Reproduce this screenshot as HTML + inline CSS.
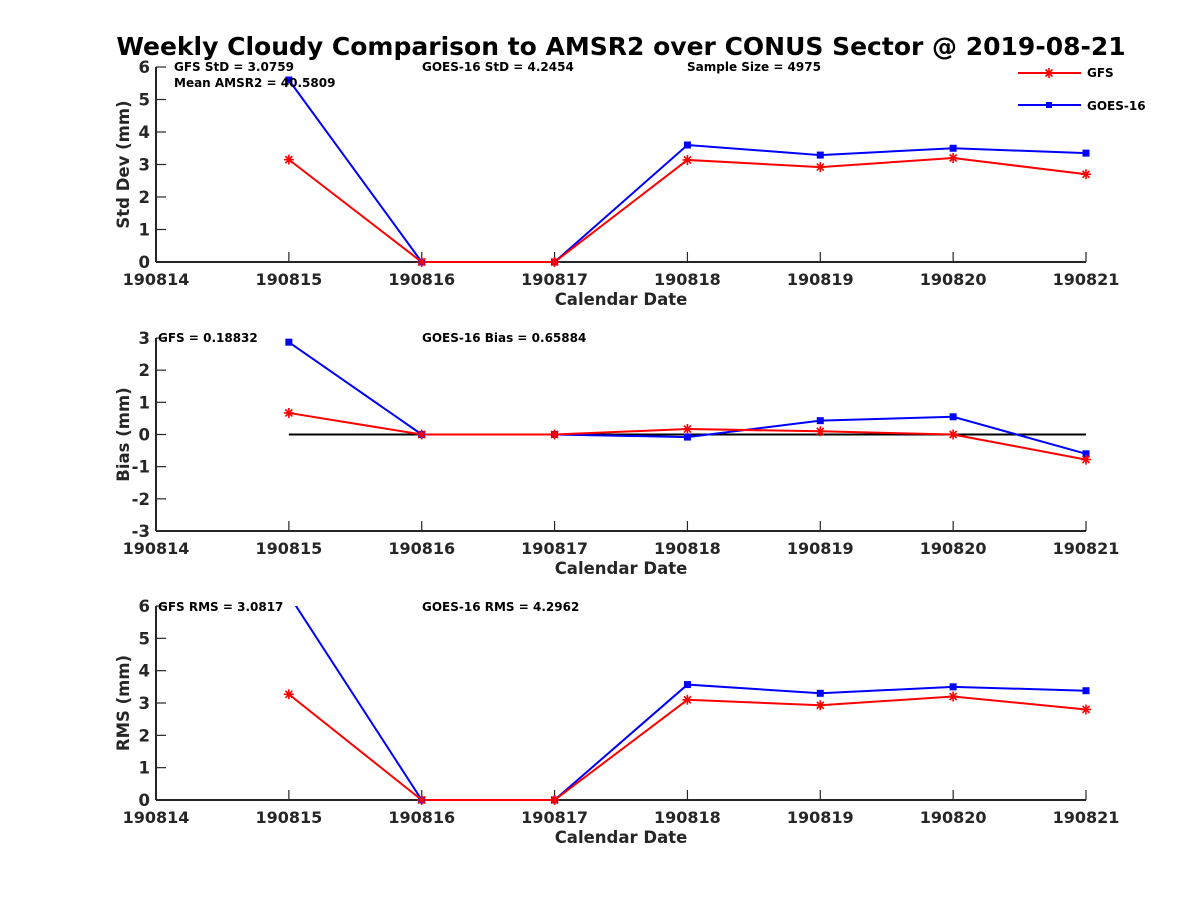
<!DOCTYPE html>
<html><head><meta charset="utf-8"><style>
html,body{margin:0;padding:0;background:#fff;}
svg text{font-family:"DejaVu Sans","Liberation Sans",sans-serif;font-weight:bold;fill:#262626;}
</style></head><body>
<svg id="c" width="1200" height="900" xmlns="http://www.w3.org/2000/svg">
<text x="621" y="55" text-anchor="middle" font-size="25" style="fill:#000">Weekly Cloudy Comparison to AMSR2 over CONUS Sector @ 2019-08-21</text>
<g>
<line x1="1018" y1="73" x2="1081" y2="73" stroke="#f00" stroke-width="2"/>
<path d="M1044,73H1054M1049,68V78M1045.5,69.5L1052.5,76.5M1045.5,76.5L1052.5,69.5" stroke="#f00" stroke-width="1.6"/>
<text x="1087" y="77" font-size="12" style="fill:#000">GFS</text>
<line x1="1018" y1="105" x2="1081" y2="105" stroke="#00f" stroke-width="2"/>
<rect x="1046" y="102" width="6" height="6" fill="#00f"/>
<text x="1087" y="110" font-size="12" style="fill:#000">GOES-16</text>
</g>
</svg>
<script>
const dates=['190814','190815','190816','190817','190818','190819','190820','190821'];
const stdGFS=[null,3.15,0,0,3.14,2.92,3.2,2.7];
const stdGOES=[null,5.6,0,0,3.6,3.29,3.5,3.35];
const biasGFS=[null,0.67,0,0,0.17,0.1,0,-0.78];
const biasGOES=[null,2.87,0,0,-0.08,0.43,0.55,-0.6];
const rmsGFS=[null,3.27,0,0,3.1,2.93,3.2,2.8];
const rmsGOES=[null,6.34,0,0,3.57,3.3,3.5,3.38];
const stdTicks=[0,1,2,3,4,5,6];
const biasTicks=[-3,-2,-1,0,1,2,3];
const rmsTicks=[0,1,2,3,4,5,6];
const svg=document.getElementById('c');
const NS='http://www.w3.org/2000/svg';
function mk(tag,attrs,parent){const e=document.createElementNS(NS,tag);for(const k in attrs)e.setAttribute(k,attrs[k]);(parent||svg).appendChild(e);return e;}
const X0=156,X1=1086;
function xs(i){return X0+(X1-X0)*i/(dates.length-1);}
function star(g,x,y){
  const r=5;
  mk('path',{d:`M${x-r},${y}H${x+r}M${x},${y-r}V${y+r}M${x-r*0.7},${y-r*0.7}L${x+r*0.7},${y+r*0.7}M${x-r*0.7},${y+r*0.7}L${x+r*0.7},${y-r*0.7}`,stroke:'#f00','stroke-width':1.6,fill:'none'},g);
}
function panel(id,top,bot,ticks,g1,g2,ylabel,annots,zeroLine){
  const ymin=ticks[0],ymax=ticks[ticks.length-1];
  const ys=v=>bot-(v-ymin)/(ymax-ymin)*(bot-top);
  const g=mk('g',{});
  
  
  const clip=mk('clipPath',{id:id+'clip'},g);
  mk('rect',{x:X0,y:top,width:X1-X0+20,height:bot-top+10},clip);
  mk('line',{x1:X0,y1:top,x2:X0,y2:bot,stroke:'#262626','stroke-width':2},g);
  mk('line',{x1:X0,y1:bot,x2:X1,y2:bot,stroke:'#262626','stroke-width':2},g);
  ticks.forEach(t=>{
    const y=ys(t);
    mk('line',{x1:X0,y1:y,x2:X0+10,y2:y,stroke:'#262626','stroke-width':1.2},g);
    const tx=mk('text',{x:X0-6,y:y+6,'text-anchor':'end','font-size':16.5},g);tx.textContent=t;
    
    
  });
  dates.forEach((d,i)=>{
    const x=xs(i);
    mk('line',{x1:x,y1:bot,x2:x,y2:bot-10,stroke:'#262626','stroke-width':1.2},g);
    const tx=mk('text',{x:x,y:bot+23,'text-anchor':'middle','font-size':16},g);tx.textContent=d;
    
    
  });
  const xl=mk('text',{x:621,y:bot+43,'text-anchor':'middle','font-size':16.5},g);xl.textContent='Calendar Date';
  
  
  const cy=(top+bot)/2;
  const yl=mk('text',{x:129,y:cy,'text-anchor':'middle','font-size':16.5,transform:`rotate(-90 129 ${cy})`},g);yl.textContent=ylabel;
  
  
  if(zeroLine){
    const zl=mk('line',{x1:xs(1),y1:ys(0),x2:xs(7),y2:ys(0),stroke:'#000','stroke-width':2},g);
    
    
  }
  const pts=a=>a.map((v,i)=>v==null?null:[xs(i),ys(v)]).filter(p=>p);
  const p2=pts(g2);
  const l2=mk('polyline',{points:p2.map(p=>p.join(',')).join(' '),fill:'none',stroke:'#00f','stroke-width':2,'clip-path':`url(#${id}clip)`},g);
  
  
  const p1=pts(g1);
  const l1=mk('polyline',{points:p1.map(p=>p.join(',')).join(' '),fill:'none',stroke:'#f00','stroke-width':2},g);
  
  
  p2.forEach(p=>{if(p[1]>=top-1){const r=mk('rect',{x:p[0]-3.5,y:p[1]-3.5,width:7,height:7,fill:'#00f'},g);
    
    }});
  p1.forEach(p=>star(g,p[0],p[1]));
  annots.forEach(a=>{const t=mk('text',{x:a[0],y:a[1],'font-size':12,style:'fill:#000'},g);t.textContent=a[2];
    
    });
}
panel('std',67,262,stdTicks,stdGFS,stdGOES,'Std Dev (mm)',[[174,71,'GFS StD = 3.0759'],[174,87,'Mean AMSR2 = 40.5809'],[422,71,'GOES-16 StD = 4.2454'],[687,71,'Sample Size = 4975']],false);
panel('bias',338,531,biasTicks,biasGFS,biasGOES,'Bias (mm)',[[158,342,'GFS = 0.18832'],[422,342,'GOES-16 Bias  = 0.65884']],true);
panel('rms',606,800,rmsTicks,rmsGFS,rmsGOES,'RMS (mm)',[[158,611,'GFS RMS = 3.0817'],[422,611,'GOES-16 RMS = 4.2962']],false);
</script>
</body></html>
